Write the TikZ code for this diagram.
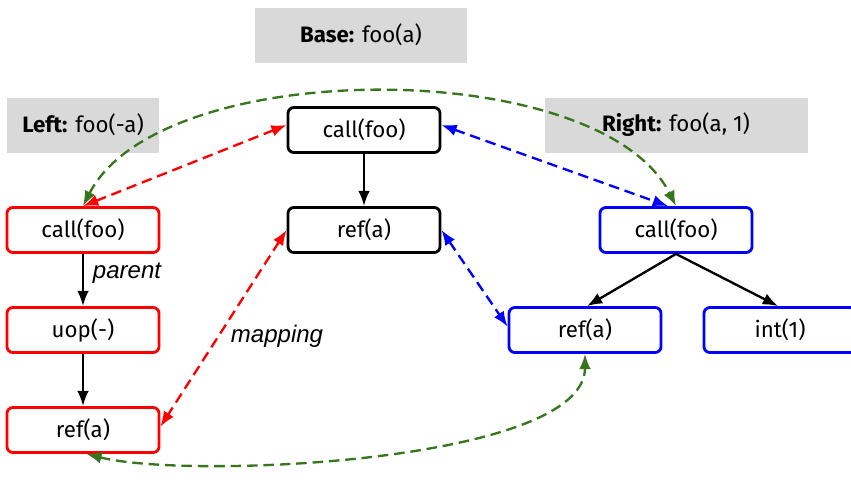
\documentclass[tikz,border=0pt]{standalone}
\usepackage{fontspec}
\setmainfont{Fira Sans}
\newfontfamily\labelfont{Liberation Sans}
\usetikzlibrary{arrows.meta,calc}
\definecolor{mapgreen}{RGB}{56,118,29}
\tikzset{
  treenode/.style={draw, line width=2.4pt, rounded corners=5pt, fill=white,
    minimum width=4.56cm, minimum height=1.35cm, inner sep=0pt,
    font=\fontsize{19}{21}\selectfont},
  titlebox/.style={fill=black!15, minimum height=1.65cm, inner sep=0pt,
    font=\fontsize{19}{21}\selectfont},
  edgelabel/.style={font=\labelfont\itshape\fontsize{20.5}{22}\selectfont},
  parentedge/.style={-{Latex[length=13pt,width=10pt]}, line width=2pt},
  mapedge/.style={{Latex[length=13pt,width=10pt]}-{Latex[length=13pt,width=10pt]},
    line width=2pt, dash pattern=on 9pt off 5pt}
}
\begin{document}
\begin{tikzpicture}[x=0.03cm, y=-0.03cm]
  \useasboundingbox (0,0) rectangle (851,495);
  %%%%% START %%%%%
  % versions
  \node[titlebox, minimum width=6.36cm] (basetitle) at (361,35) {\textbf{Base:} foo(a)};
  \node[titlebox, minimum width=4.56cm] (lefttitle) at (83,125) {\textbf{Left:} foo(-a)};
  \node[titlebox, minimum width=7.89cm] (righttitle) at (676,125) {\textbf{Right:} foo(a, 1)};

  % trees
  \node[treenode] (basecall) at (364,130) {call(foo)};
  \node[treenode] (baseref) at (364,230) {ref(a)};

  \node[treenode, draw=red] (leftcall) at (83,230) {call(foo)};
  \node[treenode, draw=red] (leftuop) at (83,330) {uop(-)};
  \node[treenode, draw=red] (leftref) at (83,430) {ref(a)};

  \node[treenode, draw=blue] (rightcall) at (676,230) {call(foo)};
  \node[treenode, draw=blue] (rightref) at (585,330) {ref(a)};
  \node[treenode, draw=blue] (rightint) at (780,330) {int(1)};

  % parent edges
  \draw[parentedge] (basecall) -- (baseref);
  \draw[parentedge] (leftcall) -- (leftuop);
  \draw[parentedge] (leftuop) -- (leftref);
  \draw[parentedge] (rightcall.south) -- ([xshift=0.06cm]rightref.north);
  \draw[parentedge] (rightcall.south) -- ([xshift=-0.06cm]rightint.north);
  \node[edgelabel] (parentlabel) at (127,273) {parent};

  % mappings
  \draw[mapedge, mapgreen] (leftcall.north) .. controls (160,55) and (600,55) .. (rightcall.north);
  \draw[mapedge, mapgreen] ([xshift=0.1cm]leftref.south) .. controls (190,480) and (585,462) .. (rightref.south);
  \draw[mapedge, red] ([yshift=0.15cm]basecall.west) -- (leftcall.north);
  \draw[mapedge, red] (baseref.west) -- ([yshift=0.1cm]leftref.east);
  \draw[mapedge, blue] ([yshift=0.15cm]basecall.east) -- ([xshift=-0.24cm]rightcall.north);
  \draw[mapedge, blue] (baseref.east) -- ([yshift=0.1cm]rightref.west);
  \node[edgelabel] (mappinglabel) at (277,336) {mapping};
  %%%%% END %%%%%
\end{tikzpicture}
\end{document}
